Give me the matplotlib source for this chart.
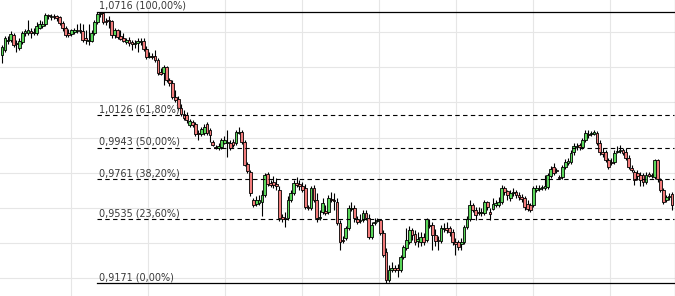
import matplotlib
matplotlib.use("Agg")
import matplotlib.pyplot as plt
import numpy as np

# candle data, one value per bar
opens = [
    1.0470, 1.0499, 1.0550, 1.0556, 1.0585, 1.0539, 1.0510, 1.0545, 1.0596, 1.0596,
    1.0607, 1.0596, 1.0596, 1.0624, 1.0636, 1.0647, 1.0699, 1.0687, 1.0693, 1.0693,
    1.0687, 1.0653, 1.0624, 1.0596, 1.0590, 1.0602, 1.0607, 1.0613, 1.0607, 1.0567,
    1.0550, 1.0550, 1.0596, 1.0659, 1.0704, 1.0710, 1.0664, 1.0670, 1.0664, 1.0585,
    1.0613, 1.0579, 1.0567, 1.0545, 1.0556, 1.0545, 1.0533, 1.0539, 1.0545, 1.0550,
    1.0505, 1.0459, 1.0465, 1.0465, 1.0442, 1.0374, 1.0368, 1.0402, 1.0328, 1.0311,
    1.0231, 1.0220, 1.0168, 1.0134, 1.0128, 1.0072, 1.0089, 1.0077, 1.0026, 1.0020,
    1.0026, 1.0077, 1.0043, 0.9975, 0.9946, 0.9940, 0.9946, 0.9969, 0.9969, 0.9969,
    0.9975, 0.9969, 1.0026, 1.0032, 0.9975, 0.9849, 0.9804, 0.9644, 0.9621, 0.9627,
    0.9633, 0.9672, 0.9792, 0.9741, 0.9747, 0.9735, 0.9701, 0.9547, 0.9541, 0.9541,
    0.9644, 0.9684, 0.9741, 0.9735, 0.9724, 0.9712, 0.9604, 0.9598, 0.9712, 0.9644,
    0.9541, 0.9576, 0.9581, 0.9576, 0.9650, 0.9644, 0.9633, 0.9513, 0.9416, 0.9427,
    0.9484, 0.9593, 0.9598, 0.9536, 0.9524, 0.9530, 0.9570, 0.9541, 0.9433, 0.9513,
    0.9524, 0.9530, 0.9456, 0.9348, 0.9188, 0.9245, 0.9256, 0.9256, 0.9245, 0.9319,
    0.9371, 0.9405, 0.9473, 0.9450, 0.9410, 0.9405, 0.9433, 0.9416, 0.9502, 0.9502,
    0.9445, 0.9416, 0.9410, 0.9479, 0.9484, 0.9484, 0.9462, 0.9405, 0.9405, 0.9393,
    0.9405, 0.9490, 0.9536, 0.9616, 0.9587, 0.9576, 0.9570, 0.9570, 0.9633, 0.9576,
    0.9593, 0.9616, 0.9616, 0.9633, 0.9712, 0.9695, 0.9655, 0.9684, 0.9690, 0.9672,
    0.9661, 0.9655, 0.9621, 0.9616, 0.9616, 0.9701, 0.9707, 0.9712, 0.9712, 0.9718,
    0.9781, 0.9832, 0.9815, 0.9775, 0.9775, 0.9832, 0.9855, 0.9861, 0.9918, 0.9946,
    0.9958, 0.9946, 0.9986, 1.0020, 1.0020, 1.0020, 1.0026, 0.9969, 0.9918, 0.9918,
    0.9872, 0.9861, 0.9861, 0.9918, 0.9923, 0.9929, 0.9918, 0.9884, 0.9826, 0.9804,
    0.9798, 0.9787, 0.9787, 0.9747, 0.9792, 0.9781, 0.9775, 0.9872, 0.9758, 0.9701,
    0.9644, 0.9661, 0.9678,
]
highs = [
    1.0528, 1.0579, 1.0579, 1.0607, 1.0596, 1.0556, 1.0567, 1.0607, 1.0619, 1.0670,
    1.0624, 1.0624, 1.0659, 1.0670, 1.0664, 1.0710, 1.0704, 1.0704, 1.0704, 1.0699,
    1.0693, 1.0664, 1.0636, 1.0619, 1.0619, 1.0624, 1.0647, 1.0653, 1.0647, 1.0613,
    1.0647, 1.0613, 1.0670, 1.0716, 1.0716, 1.0716, 1.0681, 1.0693, 1.0670, 1.0624,
    1.0619, 1.0613, 1.0596, 1.0567, 1.0573, 1.0556, 1.0556, 1.0567, 1.0567, 1.0567,
    1.0522, 1.0488, 1.0482, 1.0499, 1.0453, 1.0396, 1.0414, 1.0408, 1.0339, 1.0328,
    1.0271, 1.0237, 1.0191, 1.0157, 1.0146, 1.0106, 1.0100, 1.0089, 1.0043, 1.0060,
    1.0077, 1.0089, 1.0054, 0.9986, 0.9958, 0.9969, 0.9998, 1.0009, 1.0043, 0.9986,
    0.9993, 1.0043, 1.0060, 1.0043, 0.9986, 0.9861, 0.9815, 0.9655, 0.9667, 0.9672,
    0.9701, 0.9798, 0.9804, 0.9758, 0.9781, 0.9769, 0.9724, 0.9564, 0.9576, 0.9667,
    0.9701, 0.9758, 0.9775, 0.9758, 0.9747, 0.9735, 0.9616, 0.9724, 0.9729, 0.9684,
    0.9587, 0.9655, 0.9616, 0.9672, 0.9690, 0.9684, 0.9655, 0.9530, 0.9439, 0.9496,
    0.9616, 0.9633, 0.9616, 0.9553, 0.9564, 0.9587, 0.9587, 0.9564, 0.9519, 0.9541,
    0.9541, 0.9536, 0.9473, 0.9371, 0.9274, 0.9291, 0.9274, 0.9279, 0.9331, 0.9388,
    0.9484, 0.9496, 0.9484, 0.9473, 0.9462, 0.9462, 0.9456, 0.9541, 0.9536, 0.9519,
    0.9479, 0.9439, 0.9502, 0.9513, 0.9519, 0.9496, 0.9479, 0.9427, 0.9416, 0.9427,
    0.9502, 0.9553, 0.9644, 0.9627, 0.9604, 0.9604, 0.9598, 0.9644, 0.9638, 0.9598,
    0.9655, 0.9644, 0.9661, 0.9729, 0.9724, 0.9701, 0.9701, 0.9712, 0.9701, 0.9690,
    0.9678, 0.9667, 0.9644, 0.9627, 0.9724, 0.9729, 0.9729, 0.9729, 0.9787, 0.9798,
    0.9838, 0.9855, 0.9826, 0.9787, 0.9844, 0.9878, 0.9883, 0.9929, 0.9969, 0.9969,
    0.9969, 0.9998, 1.0043, 1.0043, 1.0037, 1.0043, 1.0037, 0.9986, 0.9940, 0.9929,
    0.9883, 0.9883, 0.9929, 0.9952, 0.9958, 0.9940, 0.9940, 0.9900, 0.9844, 0.9815,
    0.9815, 0.9804, 0.9798, 0.9804, 0.9804, 0.9798, 0.9878, 0.9878, 0.9769, 0.9712,
    0.9672, 0.9684, 0.9690,
]
lows = [
    1.0425, 1.0488, 1.0533, 1.0545, 1.0516, 1.0488, 1.0499, 1.0533, 1.0579, 1.0585,
    1.0567, 1.0585, 1.0585, 1.0619, 1.0624, 1.0636, 1.0676, 1.0670, 1.0676, 1.0664,
    1.0642, 1.0607, 1.0573, 1.0573, 1.0579, 1.0590, 1.0596, 1.0596, 1.0545, 1.0533,
    1.0528, 1.0545, 1.0585, 1.0647, 1.0687, 1.0647, 1.0642, 1.0624, 1.0567, 1.0567,
    1.0562, 1.0556, 1.0545, 1.0533, 1.0522, 1.0499, 1.0510, 1.0488, 1.0528, 1.0493,
    1.0448, 1.0453, 1.0448, 1.0431, 1.0357, 1.0357, 1.0300, 1.0317, 1.0294, 1.0220,
    1.0203, 1.0157, 1.0123, 1.0100, 1.0083, 1.0060, 1.0060, 1.0009, 0.9986, 1.0009,
    1.0015, 1.0015, 0.9975, 0.9952, 0.9935, 0.9929, 0.9935, 0.9963, 0.9889, 0.9929,
    0.9946, 0.9958, 1.0020, 0.9963, 0.9838, 0.9798, 0.9667, 0.9604, 0.9610, 0.9616,
    0.9553, 0.9661, 0.9724, 0.9718, 0.9712, 0.9701, 0.9524, 0.9519, 0.9490, 0.9530,
    0.9633, 0.9672, 0.9718, 0.9701, 0.9690, 0.9593, 0.9587, 0.9587, 0.9633, 0.9519,
    0.9530, 0.9564, 0.9559, 0.9564, 0.9633, 0.9587, 0.9502, 0.9359, 0.9399, 0.9416,
    0.9473, 0.9581, 0.9519, 0.9507, 0.9513, 0.9519, 0.9530, 0.9422, 0.9422, 0.9502,
    0.9519, 0.9445, 0.9319, 0.9171, 0.9177, 0.9234, 0.9234, 0.9205, 0.9234, 0.9308,
    0.9359, 0.9393, 0.9416, 0.9388, 0.9376, 0.9382, 0.9388, 0.9405, 0.9484, 0.9359,
    0.9382, 0.9359, 0.9399, 0.9462, 0.9456, 0.9439, 0.9388, 0.9331, 0.9359, 0.9359,
    0.9393, 0.9479, 0.9524, 0.9576, 0.9530, 0.9559, 0.9553, 0.9559, 0.9587, 0.9530,
    0.9587, 0.9604, 0.9604, 0.9621, 0.9672, 0.9644, 0.9638, 0.9667, 0.9655, 0.9644,
    0.9633, 0.9587, 0.9581, 0.9576, 0.9604, 0.9690, 0.9695, 0.9701, 0.9701, 0.9707,
    0.9769, 0.9787, 0.9798, 0.9764, 0.9764, 0.9821, 0.9844, 0.9849, 0.9900, 0.9929,
    0.9929, 0.9935, 0.9975, 0.9998, 1.0009, 1.0015, 0.9958, 0.9900, 0.9889, 0.9861,
    0.9821, 0.9844, 0.9849, 0.9912, 0.9912, 0.9900, 0.9872, 0.9821, 0.9804, 0.9729,
    0.9758, 0.9724, 0.9724, 0.9735, 0.9775, 0.9769, 0.9764, 0.9747, 0.9690, 0.9621,
    0.9633, 0.9644, 0.9587,
]
closes = [
    1.0516, 1.0567, 1.0556, 1.0590, 1.0528, 1.0533, 1.0550, 1.0596, 1.0607, 1.0613,
    1.0596, 1.0602, 1.0636, 1.0647, 1.0647, 1.0699, 1.0693, 1.0693, 1.0687, 1.0681,
    1.0653, 1.0624, 1.0585, 1.0585, 1.0613, 1.0613, 1.0613, 1.0607, 1.0556, 1.0556,
    1.0556, 1.0596, 1.0659, 1.0704, 1.0710, 1.0659, 1.0659, 1.0664, 1.0585, 1.0613,
    1.0573, 1.0562, 1.0550, 1.0556, 1.0539, 1.0533, 1.0539, 1.0550, 1.0550, 1.0505,
    1.0459, 1.0465, 1.0459, 1.0442, 1.0368, 1.0362, 1.0402, 1.0328, 1.0311, 1.0231,
    1.0214, 1.0168, 1.0134, 1.0111, 1.0100, 1.0094, 1.0072, 1.0020, 1.0020, 1.0049,
    1.0060, 1.0026, 1.0015, 0.9958, 0.9940, 0.9952, 0.9986, 0.9986, 0.9975, 0.9940,
    0.9958, 1.0032, 1.0032, 0.9975, 0.9844, 0.9809, 0.9684, 0.9616, 0.9644, 0.9644,
    0.9672, 0.9787, 0.9735, 0.9729, 0.9729, 0.9724, 0.9541, 0.9536, 0.9536, 0.9644,
    0.9684, 0.9741, 0.9729, 0.9724, 0.9701, 0.9604, 0.9598, 0.9712, 0.9644, 0.9541,
    0.9547, 0.9627, 0.9570, 0.9655, 0.9644, 0.9638, 0.9513, 0.9405, 0.9410, 0.9484,
    0.9598, 0.9598, 0.9541, 0.9519, 0.9530, 0.9570, 0.9541, 0.9433, 0.9502, 0.9519,
    0.9530, 0.9456, 0.9331, 0.9188, 0.9245, 0.9256, 0.9245, 0.9245, 0.9319, 0.9376,
    0.9416, 0.9473, 0.9445, 0.9405, 0.9422, 0.9433, 0.9405, 0.9536, 0.9496, 0.9445,
    0.9410, 0.9410, 0.9484, 0.9484, 0.9473, 0.9462, 0.9405, 0.9393, 0.9376, 0.9405,
    0.9490, 0.9536, 0.9616, 0.9587, 0.9559, 0.9570, 0.9576, 0.9633, 0.9604, 0.9564,
    0.9621, 0.9627, 0.9633, 0.9712, 0.9690, 0.9672, 0.9684, 0.9690, 0.9672, 0.9661,
    0.9650, 0.9604, 0.9593, 0.9587, 0.9712, 0.9712, 0.9712, 0.9718, 0.9724, 0.9787,
    0.9821, 0.9798, 0.9809, 0.9769, 0.9832, 0.9861, 0.9866, 0.9912, 0.9952, 0.9952,
    0.9946, 0.9986, 1.0026, 1.0015, 1.0026, 1.0032, 0.9969, 0.9918, 0.9906, 0.9872,
    0.9832, 0.9855, 0.9912, 0.9923, 0.9929, 0.9912, 0.9884, 0.9832, 0.9815, 0.9758,
    0.9781, 0.9758, 0.9747, 0.9787, 0.9781, 0.9787, 0.9872, 0.9764, 0.9701, 0.9633,
    0.9661, 0.9667, 0.9616,
]

# fibonacci retracement levels as labelled on the chart
fib_levels = [1.0716, 1.0126, 0.9943, 0.9761, 0.9535, 0.9171]
fib_labels = ["1,0716 (100,00%)", "1,0126 (61,80%)", "0,9943 (50,00%)",
              "0,9761 (38,20%)", "0,9535 (23,60%)", "0,9171 (0,00%)"]

UP = "#5ad65a"
DOWN = "#f27c7c"


def draw_candles(ax):
	o = np.array(opens)
	h = np.array(highs)
	l = np.array(lows)
	c = np.array(closes)
	x = np.arange(len(o))
	ax.vlines(x, l, h, color="black", linewidth=0.8, zorder=2)
	colors = [UP if cc >= oo else DOWN for oo, cc in zip(o, c)]
	ax.bar(x, c - o, bottom=o, width=0.95, color=colors,
	       edgecolor="black", linewidth=0.6, zorder=3)
	return x


def draw_fib(ax, start, end):
	for i, (lvl, lab) in enumerate(zip(fib_levels, fib_labels)):
		solid = i == 0 or i == len(fib_levels) - 1
		if solid:
			ax.plot([start, end], [lvl, lvl], color="black", linewidth=0.9, zorder=4)
		else:
			ax.plot([start, end], [lvl, lvl], color="black", linewidth=0.8,
			        dashes=(4, 3), zorder=4)
		ax.annotate(lab, xy=(start, lvl), xytext=(2, 3), textcoords="offset pixels",
		            fontsize=6.9, color="#383838", va="baseline", ha="left", zorder=5)


def main():
	fig = plt.figure(figsize=(6.75, 2.96), dpi=100)
	ax = fig.add_axes([0, 0, 674.5 / 675, 1])
	step = 670 / 232
	x0 = -2 / step
	ax.set_xlim(x0, x0 + 674.5 / step)
	ax.set_ylim(0.9097, 1.0784)

	x = draw_candles(ax)
	peak = int(np.argmax(highs))
	draw_fib(ax, peak, x0 + 674.5 / step)

	ax.set_yticks(np.arange(0.92, 1.07, 0.02))
	ax.set_xticks(np.arange(24, 233, 26.65))
	ax.grid(True, color="#e6e6e6", linewidth=0.8, zorder=0)
	ax.set_axisbelow(True)
	ax.tick_params(length=0, labelbottom=False, labelleft=False)
	for side in ["top", "left", "bottom"]:
		ax.spines[side].set_visible(False)
	ax.spines["right"].set_color("#707070")
	ax.spines["right"].set_linewidth(0.8)

	fig.savefig("out.png", dpi=100)


if __name__ == "__main__":
	main()
